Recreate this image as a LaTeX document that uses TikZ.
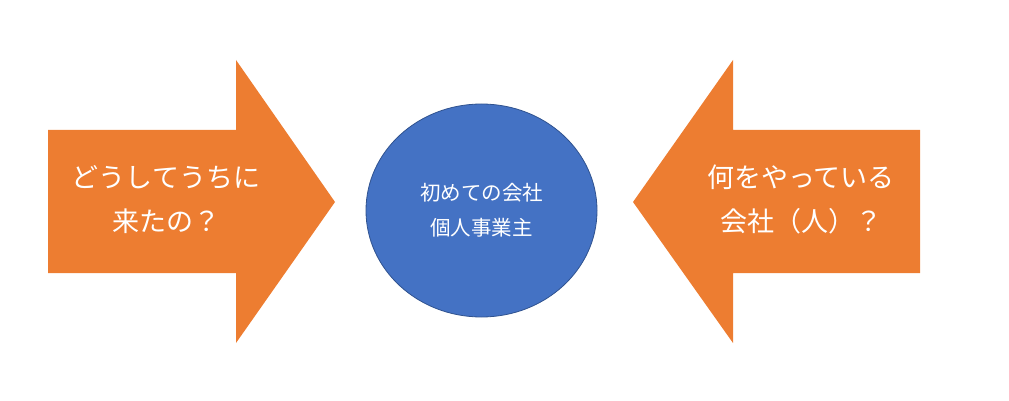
\documentclass[tikz,border=0pt]{standalone}
\usepackage{fontspec}
\newfontfamily\jpfont{Noto Sans CJK JP}
\usetikzlibrary{shapes.geometric}
\definecolor{arroworange}{HTML}{ED7D31}
\definecolor{bubbleblue}{HTML}{4472C4}
\definecolor{bubbleedge}{HTML}{2F528F}

\begin{document}
\begin{tikzpicture} [x=1pt, y=-1pt,
    blockarrow/.style={fill=arroworange, draw=none},
    arrowtext/.style={text=white, align=center, font=\jpfont\fontsize{27}{44}\selectfont} ]
  \useasboundingbox (0,0) rectangle (1009,401);
  % block arrows
  \path[blockarrow] (48,130) -- (236,130) -- (236,60) -- (335,202)
    -- (236,343) -- (236,273) -- (48,273) -- cycle;
  \path[blockarrow] (920,130) -- (733,130) -- (733,60) -- (633,202)
    -- (733,343) -- (733,273) -- (920,273) -- cycle;
  \node[ellipse, fill=bubbleblue, draw=bubbleedge, line width=0.8pt
    , minimum width=231pt, minimum height=213pt, inner sep=0pt
    , text=white, align=center, font=\jpfont\fontsize{20.5}{35}\selectfont
  ] (bubble) at (481.5,210.5) {初めての会社\\個人事業主};
  \node[arrowtext] (why) at (166,200) {どうしてうちに\\来たの？};
  \node[arrowtext] (what) at (801,199) {何をやっている\\会社（人）？};
\end{tikzpicture}
\end{document}
